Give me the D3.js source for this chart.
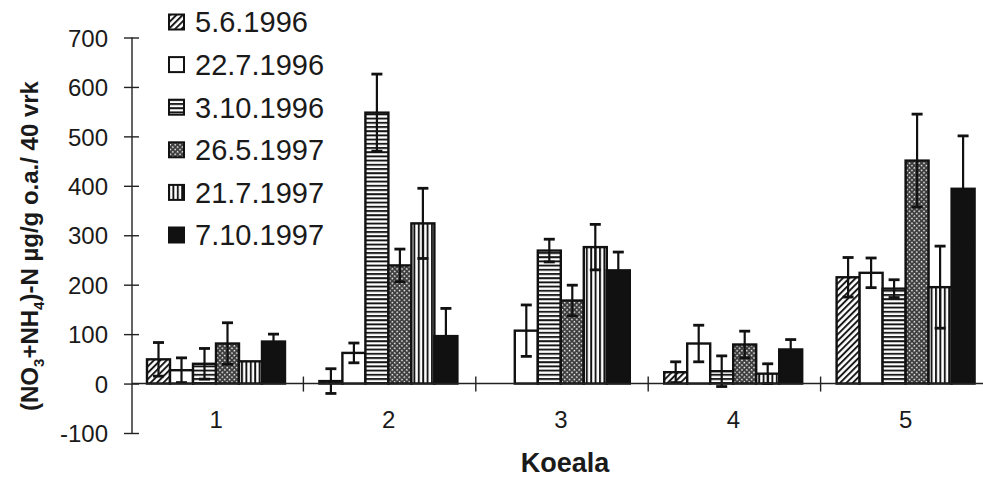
<!DOCTYPE html>
<html>
<head>
<meta charset="utf-8">
<script src="https://cdn.jsdelivr.net/npm/d3@7"></script>
<style>
body { margin:0; background:#fff; }
text { font-family: Arial, "Liberation Sans", sans-serif; fill:#1a1a1a; }
</style>
</head>
<body>
<div id="chart"></div>
<script>
// plots (Koeala) and sampling dates
var categories = ["1","2","3","4","5"];
var dates = ["5.6.1996","22.7.1996","3.10.1996","26.5.1997","21.7.1997","7.10.1997"];

// mean values per date, one entry per plot
var v_5_6_1996  = [49, 5, null, 23, 215];
var v_22_7_1996 = [27, 62, 107, 81, 224];
var v_3_10_1996 = [40, 548, 269, 25, 192];
var v_26_5_1997 = [81, 239, 168, 79, 451];
var v_21_7_1997 = [45, 324, 276, 20, 195];
var v_7_10_1997 = [85, 96, 229, 69, 394];

// error (sd) per date
var e_5_6_1996  = [34, 25, 0, 21, 40];
var e_22_7_1996 = [25, 20, 52, 37, 30];
var e_3_10_1996 = [31, 78, 23, 31, 18];
var e_26_5_1997 = [42, 33, 31, 27, 94];
var e_21_7_1997 = [0, 71, 46, 20, 83];
var e_7_10_1997 = [15, 56, 37, 20, 107];

var yTicks = [-100, 0, 100, 200, 300, 400, 500, 600, 700];

var values = [v_5_6_1996, v_22_7_1996, v_3_10_1996, v_26_5_1997, v_21_7_1997, v_7_10_1997];
var errors = [e_5_6_1996, e_22_7_1996, e_3_10_1996, e_26_5_1997, e_21_7_1997, e_7_10_1997];
var fills = ["url(#diag)", "#fff", "url(#horiz)", "url(#cross)", "url(#vert)", "#111"];

var width = 983, height = 480;

var svg = d3.select("#chart").append("svg").attr("width", width).attr("height", height);

// patterns
var defs = svg.append("defs");
var p = defs.append("pattern").attr("id","diag").attr("patternUnits","userSpaceOnUse")
	.attr("width",4.5).attr("height",4.5).attr("patternTransform","rotate(45)");
p.append("rect").attr("width",4.5).attr("height",4.5).attr("fill","#fff");
p.append("line").attr("x1",1).attr("x2",1).attr("y1",0).attr("y2",4.5).attr("stroke","#111").attr("stroke-width",1.9);

p = defs.append("pattern").attr("id","horiz").attr("patternUnits","userSpaceOnUse").attr("width",4).attr("height",4.2);
p.append("rect").attr("width",4).attr("height",4.2).attr("fill","#fff");
p.append("line").attr("x1",0).attr("x2",4).attr("y1",1).attr("y2",1).attr("stroke","#111").attr("stroke-width",1.9);

p = defs.append("pattern").attr("id","vert").attr("patternUnits","userSpaceOnUse").attr("width",4.4).attr("height",4);
p.append("rect").attr("width",4.4).attr("height",4).attr("fill","#fff");
p.append("line").attr("x1",1).attr("x2",1).attr("y1",0).attr("y2",4).attr("stroke","#111").attr("stroke-width",1.9);

p = defs.append("pattern").attr("id","cross").attr("patternUnits","userSpaceOnUse")
	.attr("width",3.4).attr("height",3.4).attr("patternTransform","rotate(45)");
p.append("rect").attr("width",3.4).attr("height",3.4).attr("fill","#3a3a3a");
p.append("rect").attr("x",0.7).attr("y",0.7).attr("width",1.5).attr("height",1.5).attr("fill","#fff");

var x0 = d3.scaleBand().domain(categories).range([131, 993]);
var x1 = d3.scaleBand().domain(dates).range([16, 154]);
var y = d3.scaleLinear().domain([-100, 700]).range([433, 37.5]);

// bars
var groups = svg.selectAll("g.grp")
	.data(categories)
	.enter().append("g")
	.attr("class","grp")
	.attr("transform", function(d){ return "translate(" + x0(d) + ",0)"; });

groups.each(function(c, ci){
	var g = d3.select(this);
	var rows = [];
	dates.forEach(function(dt, si){
		if(values[si][ci] != null) rows.push({date: dt, si: si, v: values[si][ci], e: errors[si][ci]});
	});
	g.selectAll("rect.bar").data(rows).enter().append("rect")
		.attr("class","bar")
		.attr("x", function(d){ return x1(d.date); })
		.attr("width", x1.bandwidth())
		.attr("y", function(d){ return y(Math.max(0, d.v)); })
		.attr("height", function(d){ return Math.abs(y(d.v) - y(0)); })
		.attr("fill", function(d){ return fills[d.si]; })
		.attr("stroke","#111").attr("stroke-width",2.4);

	var eb = g.selectAll("g.err").data(rows.filter(function(d){ return d.e > 0; })).enter().append("g").attr("class","err");
	eb.append("line")
		.attr("x1", function(d){ return x1(d.date) + x1.bandwidth()/2; })
		.attr("x2", function(d){ return x1(d.date) + x1.bandwidth()/2; })
		.attr("y1", function(d){ return y(d.v + d.e); })
		.attr("y2", function(d){ return y(d.v - d.e); })
		.attr("stroke","#111").attr("stroke-width",2.2);
	[1, -1].forEach(function(sg){
		eb.append("line")
			.attr("x1", function(d){ return x1(d.date) + x1.bandwidth()/2 - 5.5; })
			.attr("x2", function(d){ return x1(d.date) + x1.bandwidth()/2 + 5.5; })
			.attr("y1", function(d){ return y(d.v + sg*d.e); })
			.attr("y2", function(d){ return y(d.v + sg*d.e); })
			.attr("stroke","#111").attr("stroke-width",2.8);
	});
});

// y axis
var yAxis = d3.axisLeft(y).tickValues(yTicks).tickFormat(function(d){ return String(d); }).tickSize(0).tickPadding(0);
var ya = svg.append("g").attr("transform","translate(132,0)").call(yAxis);
ya.select(".domain").remove();
ya.append("line").attr("x1",0).attr("x2",0).attr("y1",y(700)).attr("y2",y(-100)).attr("stroke","#222").attr("stroke-width",1.4);
ya.selectAll(".tick").append("line").attr("x1",-8).attr("x2",7).attr("stroke","#222").attr("stroke-width",1.4);
ya.selectAll(".tick text").attr("x",-24).attr("dy","0.36em").style("font-size","24px").attr("fill","#1a1a1a");

// x axis on zero line
var xa = svg.append("g").attr("transform","translate(0," + y(0) + ")");
xa.append("line").attr("x1",132).attr("x2",983).attr("stroke","#222").attr("stroke-width",1.4);
xa.selectAll("line.sep").data(categories.slice(1)).enter().append("line")
	.attr("class","sep")
	.attr("x1", function(d){ return x0(d); }).attr("x2", function(d){ return x0(d); })
	.attr("y1",-7).attr("y2",8).attr("stroke","#222").attr("stroke-width",1.4);
xa.selectAll("text").data(categories).enter().append("text")
	.attr("x", function(d){ return x0(d) + x0.bandwidth()/2 - 1; })
	.attr("y", 44)
	.attr("text-anchor","middle")
	.style("font-size","24px")
	.text(function(d){ return d; });

// axis titles
svg.append("text").attr("x",565).attr("y",472).attr("text-anchor","middle")
	.style("font-size","27px").style("font-weight","bold").text("Koeala");

var yl = svg.append("text").attr("transform","translate(38,246) rotate(-90)").attr("text-anchor","middle")
	.style("font-size","24px").style("font-weight","bold");
yl.append("tspan").text("(NO");
yl.append("tspan").attr("dy",6).style("font-size","15px").text("3");
yl.append("tspan").attr("dy",-6).text("+NH");
yl.append("tspan").attr("dy",6).style("font-size","15px").text("4");
yl.append("tspan").attr("dy",-6).text(")-N µg/g o.a./ 40 vrk");

// legend
var leg = svg.selectAll("g.leg").data(dates).enter().append("g").attr("class","leg")
	.attr("transform", function(d, i){ return "translate(168," + (22 + i*42.6) + ")"; });
leg.append("rect").attr("x",1).attr("y",-7.5).attr("width",15).attr("height",15)
	.attr("fill", function(d, i){ return fills[i]; })
	.attr("stroke","#111").attr("stroke-width",2);
leg.append("text").attr("x",27).attr("dy","0.36em").style("font-size","29px").text(function(d){ return d; });
</script>
</body>
</html>
